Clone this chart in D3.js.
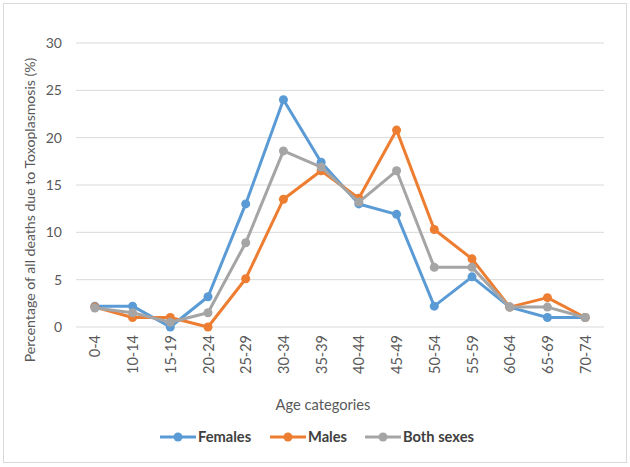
<!DOCTYPE html>
<html><head><meta charset="utf-8">
<script src="https://cdn.jsdelivr.net/npm/d3@7"></script>
<style>
body{margin:0;background:#fff;}
text{font-family:Lato,"Liberation Sans",sans-serif;}
</style></head>
<body><svg id="c" width="630" height="467"></svg>
<script>
const categories = ["0-4","10-14","15-19","20-24","25-29","30-34","35-39","40-44","45-49","50-54","55-59","60-64","65-69","70-74"];
const females = [2.2,2.2,0,3.2,13,24,17.4,13,11.9,2.2,5.3,2.1,1.0,1.0];
const males = [2.1,1.0,1.0,0,5.1,13.5,16.5,13.6,20.8,10.3,7.2,2.1,3.1,1.0];
const both = [2.0,1.5,0.5,1.5,8.9,18.6,16.9,13.2,16.5,6.3,6.3,2.1,2.1,1.0];
const yTicks = [0,5,10,15,20,25,30];
const seriesNames = ["Females","Males","Both sexes"];
const colors = ["#5B9BD5","#ED7D31","#A5A5A5"];
const seriesData = [females, males, both];

const svg = d3.select("#c");
svg.append("rect").attr("x",3.5).attr("y",3.5).attr("width",623).attr("height",459)
  .attr("fill","#fff").attr("stroke","#D9D9D9");

const x = d3.scalePoint().domain(categories).range([76,604]).padding(0.5);
const y = d3.scaleLinear().domain([0,30]).range([327,43]);

function fit(sel, target, base){
  const w = sel.node().getComputedTextLength();
  const fs = base*target/w;
  sel.attr("font-size", fs);
  return fs;
}

// gridlines
svg.append("g").selectAll("line").data(yTicks).join("line")
  .attr("x1",76).attr("x2",604).attr("y1",d=>y(d)).attr("y2",d=>y(d))
  .attr("stroke","#D9D9D9").attr("stroke-width",1);

// y axis labels
const yAxis = svg.append("g").attr("transform","translate(76,0)")
  .call(d3.axisLeft(y).tickValues(yTicks).tickSize(0).tickPadding(14));
yAxis.select(".domain").remove();
yAxis.selectAll("text").attr("font-size",14).attr("fill","#595959")
  .style("font-family","Lato,'Liberation Sans',sans-serif");

// x axis labels
const xAxis = svg.append("g").attr("transform","translate(0,327)")
  .call(d3.axisBottom(x).tickSize(0).tickPadding(0));
xAxis.select(".domain").remove();
xAxis.selectAll("text").attr("font-size",14.5).attr("fill","#595959")
  .style("font-family","Lato,'Liberation Sans',sans-serif")
  .attr("transform","rotate(-90)").attr("text-anchor","end")
  .attr("x",-8).attr("y",0).attr("dy","0.35em");

// axis titles
const yt = svg.append("text").attr("transform","translate(35,210) rotate(-90)")
  .attr("text-anchor","middle").attr("font-size",14).attr("fill","#595959")
  .text("Percentage of all deaths due to Toxoplasmosis (%)");
fit(yt, 305, 14);
const xt = svg.append("text").attr("x",323).attr("y",410).attr("text-anchor","middle")
  .attr("font-size",14).attr("fill","#595959").text("Age categories");
fit(xt, 95, 14);

// lines
const line = d3.line().x((d,i)=>x(categories[i])).y(d=>y(d));
seriesData.forEach((s,k)=>{
  const g = svg.append("g");
  g.append("path").attr("d",line(s)).attr("fill","none").attr("stroke",colors[k])
    .attr("stroke-width",3).attr("stroke-linejoin","round");
  g.selectAll("circle").data(s).join("circle")
    .attr("cx",(d,i)=>x(categories[i])).attr("cy",d=>y(d)).attr("r",4.5).attr("fill",colors[k]);
});

// legend
const legX = [160,270,365];
const leg = svg.append("g");
const texts = [];
seriesNames.forEach((n,k)=>{
  const g = leg.append("g").attr("transform",`translate(${legX[k]},437)`);
  g.append("line").attr("x1",0).attr("x2",36).attr("stroke",colors[k]).attr("stroke-width",3);
  g.append("circle").attr("cx",18).attr("r",4.5).attr("fill",colors[k]);
  const t = g.append("text").attr("x",38).attr("dy","0.35em").attr("font-size",13).attr("font-weight","bold")
    .attr("fill","#404040").text(n);
  texts.push(t);
});
const lfs = fit(texts[2], 71, 13);
texts.forEach(t=>t.attr("font-size", lfs));
</script></body></html>
